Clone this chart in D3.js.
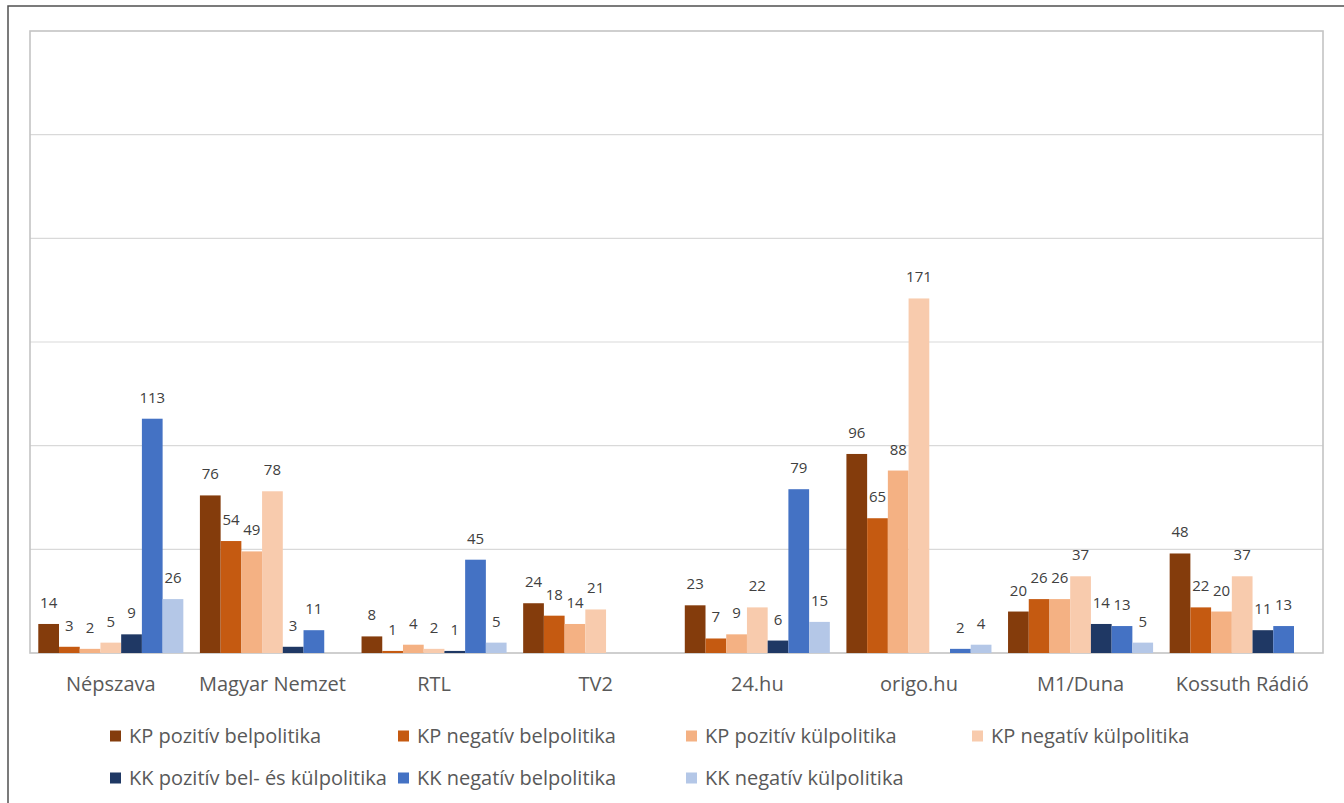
<!DOCTYPE html>
<html>
<head>
<meta charset="utf-8">
<script src="https://cdn.jsdelivr.net/npm/d3@7"></script>
<style>
  html, body { margin: 0; padding: 0; background: #fff; }
  svg { display: block; }
</style>
</head>
<body>
<svg id="chart" width="1344" height="803"></svg>
<script>
const categories = ["Népszava", "Magyar Nemzet", "RTL", "TV2", "24.hu", "origo.hu", "M1/Duna", "Kossuth Rádió"];
const seriesNames = [
  "KP pozitív belpolitika",
  "KP negatív belpolitika",
  "KP pozitív külpolitika",
  "KP negatív külpolitika",
  "KK pozitív bel- és külpolitika",
  "KK negatív belpolitika",
  "KK negatív külpolitika"
];
const seriesColors = ["#843C0C", "#C55A11", "#F4B183", "#F8CBAD", "#1F3864", "#4472C4", "#B4C7E7"];

// values per series, in category order (null = no bar)
const kpPozBel   = [14, 76, 8, 24, 23, 96, 20, 48];
const kpNegBel   = [3, 54, 1, 18, 7, 65, 26, 22];
const kpPozKul   = [2, 49, 4, 14, 9, 88, 26, 20];
const kpNegKul   = [5, 78, 2, 21, 22, 171, 37, 37];
const kkPozBelKul= [9, 3, 1, null, 6, null, 14, 11];
const kkNegBel   = [113, 11, 45, null, 79, 2, 13, 13];
const kkNegKul   = [26, null, 5, null, 15, 4, 5, null];
const seriesValues = [kpPozBel, kpNegBel, kpPozKul, kpNegKul, kkPozBelKul, kkNegBel, kkNegKul];

const yTicks = [0, 50, 100, 150, 200, 250, 300];

const svg = d3.select("#chart");
const FONT = "'Open Sans', 'DejaVu Sans', sans-serif";

// outer frame
svg.append("rect")
  .attr("x", 8).attr("y", 6).attr("width", 1400).attr("height", 900)
  .attr("fill", "none").attr("stroke", "#505050").attr("stroke-width", 1.5);

const plot = { left: 30, top: 31, right: 1323, bottom: 653 };

const x0 = d3.scaleBand().domain(categories).range([plot.left, plot.right]).padding(0);
const x1 = d3.scaleBand().domain(d3.range(seriesNames.length))
  .range([0, x0.bandwidth()]).paddingInner(0).paddingOuter(0.4);
const y = d3.scaleLinear().domain([0, 300]).range([plot.bottom, plot.top]);

// gridlines
svg.append("g").selectAll("line").data(yTicks.slice(1, -1)).join("line")
  .attr("x1", plot.left).attr("x2", plot.right)
  .attr("y1", d => y(d)).attr("y2", d => y(d))
  .attr("stroke", "#D9D9D9").attr("stroke-width", 1.2);

// plot border
svg.append("rect")
  .attr("x", plot.left).attr("y", plot.top)
  .attr("width", plot.right - plot.left).attr("height", plot.bottom - plot.top)
  .attr("fill", "none").attr("stroke", "#C4C4C4").attr("stroke-width", 1.6);

// bars
const barData = [];
seriesValues.forEach((vals, si) => {
  vals.forEach((v, ci) => {
    if (v !== null) barData.push({ si, cat: categories[ci], v });
  });
});

const gBars = svg.append("g");
gBars.selectAll("rect").data(barData).join("rect")
  .attr("x", d => x0(d.cat) + x1(d.si))
  .attr("y", d => y(d.v))
  .attr("width", x1.bandwidth())
  .attr("height", d => y(0) - y(d.v))
  .attr("fill", d => seriesColors[d.si]);

// data labels
gBars.selectAll("text").data(barData).join("text")
  .attr("x", d => x0(d.cat) + x1(d.si) + x1.bandwidth() / 2)
  .attr("y", d => y(d.v) - 16)
  .attr("text-anchor", "middle")
  .attr("font-family", FONT).attr("font-size", 15)
  .attr("fill", "#404040")
  .text(d => d.v);

// category axis labels
svg.append("g").selectAll("text").data(categories).join("text")
  .attr("x", d => x0(d) + x0.bandwidth() / 2)
  .attr("y", 691)
  .attr("text-anchor", "middle")
  .attr("font-family", FONT).attr("font-size", 20)
  .attr("fill", "#595959")
  .text(d => d);

// legend
const legendPos = [
  { x: 110, y: 736 }, { x: 398, y: 736 }, { x: 686, y: 736 }, { x: 972, y: 736 },
  { x: 110, y: 778 }, { x: 398, y: 778 }, { x: 686, y: 778 }
];
const lg = svg.append("g").selectAll("g").data(seriesNames).join("g")
  .attr("transform", (d, i) => `translate(${legendPos[i].x},${legendPos[i].y})`);
lg.append("rect")
  .attr("x", 0).attr("y", -5.5).attr("width", 11).attr("height", 11)
  .attr("fill", (d, i) => seriesColors[i]);
lg.append("text")
  .attr("x", 19).attr("y", 7)
  .attr("font-family", FONT).attr("font-size", 20)
  .attr("fill", "#595959")
  .text(d => d);
</script>
</body>
</html>
